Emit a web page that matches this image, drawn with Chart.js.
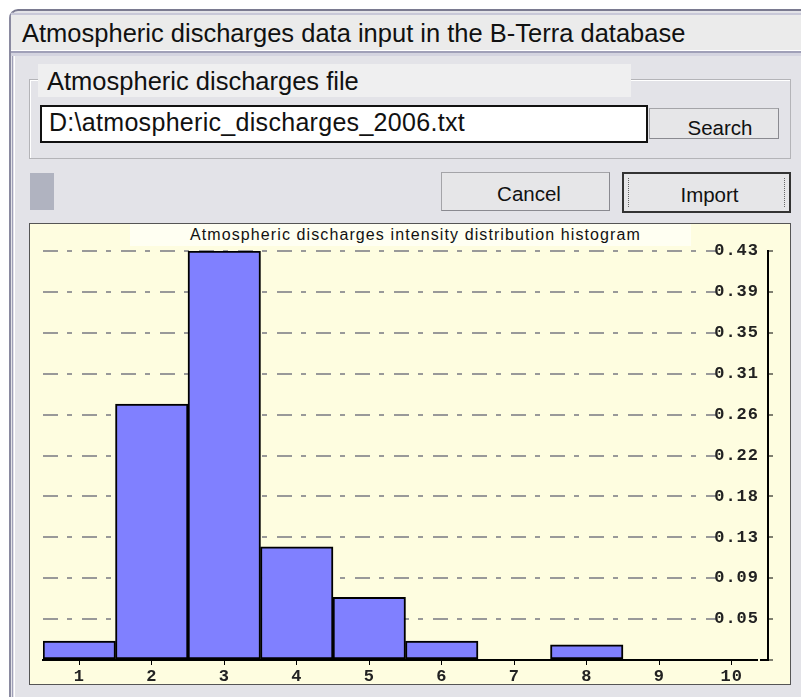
<!DOCTYPE html>
<html>
<head>
<meta charset="utf-8">
<script src="https://cdn.jsdelivr.net/npm/chart.js@4"></script>
<style>
  body { margin: 0; background: #fff; width: 801px; height: 697px; overflow: hidden; position: relative; font-family: "Liberation Sans", Arial, sans-serif; line-height: 1.15; }
  .abs { position: absolute; box-sizing: border-box; }
  #win { left: 9px; top: 9px; width: 820px; height: 720px; background: #e3e3e8; border-top: 2px solid #7a7a90; border-left: 2px solid #8a8aa0; border-top-left-radius: 9px; }
  #titlebar { left: 11px; top: 13px; width: 800px; height: 37px; background: #ebebeb; border-top: 2px solid #c8c8d8; }
  #titletext { left: 22px; top: 19px; font-size: 25.5px; color: #111; white-space: nowrap; }
  #sep { left: 11px; top: 50px; width: 800px; height: 6px; border-top: 1px solid #fff; border-bottom: 3px solid #d4d4e0; background: #a0a0b8; }
  #leftline { left: 12px; top: 56px; width: 3px; height: 650px; border-left: 1px solid #a0a0b8; border-right: 1px solid #fff; }
  #group { left: 29px; top: 79px; width: 762px; height: 80px; border: 1px solid #b4b4b8; box-shadow: inset 1px 1px 0 #fff; }
  #grouplabel { left: 38px; top: 64px; width: 593px; height: 33px; background: #efeff0; font-size: 25.5px; padding: 3px 0 0 9px; color: #111; white-space: nowrap; }
  #fileinput { left: 40px; top: 105px; width: 608px; height: 38px; background: #fff; border: 2px solid #111; font-size: 25px; padding: 1px 0 0 7px; color: #111; letter-spacing: 0.3px; white-space: nowrap; }
  .btn { background: #e6e6e8; border: 1px solid #a4a4a8; border-right-color: #8a8a90; border-bottom-color: #8a8a90; font-size: 20.5px; text-align: center; color: #111; }
  #search { left: 649px; top: 108px; width: 130px; height: 31px; padding: 7px 0 0 12px; }
  #cancel { left: 441px; top: 172px; width: 169px; height: 39px; padding: 9px 0 0 7px; }
  #import { left: 622px; top: 172px; width: 169px; height: 41px; padding: 9px 0 0 6px; border: 2px solid #333; }
  #focus { left: 628px; top: 178px; width: 157px; height: 29px; border-left: 1px dotted #666; border-right: 1px dotted #666; }
  #grip { left: 30px; top: 173px; width: 24px; height: 37px; background: #b0b3c0; }
  #panel { left: 29px; top: 223px; width: 762px; height: 462px; background: #fefde0; border: 1px solid #555; }
  #charttitle { left: 130px; top: 224px; width: 561px; height: 22px; background: #fffff2; font-size: 16px; letter-spacing: 1.1px; color: #111; padding: 2px 0 0 60px; white-space: nowrap; }
  canvas { position: absolute; left: 30px; top: 224px; }
</style>
</head>
<body>
<div class="abs" id="win"></div>
<div class="abs" id="titlebar"></div>
<div class="abs" id="titletext">Atmospheric discharges data input in the B-Terra database</div>
<div class="abs" id="sep"></div>
<div class="abs" id="leftline"></div>
<div class="abs" id="group"></div>
<div class="abs" id="grouplabel">Atmospheric discharges file</div>
<div class="abs" id="fileinput">D:\atmospheric_discharges_2006.txt</div>
<div class="abs btn" id="search">Search</div>
<div class="abs" id="grip"></div>
<div class="abs btn" id="cancel">Cancel</div>
<div class="abs btn" id="import">Import</div>
<div class="abs" id="focus"></div>
<div class="abs" id="panel"></div>
<canvas id="hist" width="760" height="459"></canvas>
<div class="abs" id="charttitle">Atmospheric discharges intensity distribution histogram</div>
<script>
const categories = ['1', '2', '3', '4', '5', '6', '7', '8', '9', '10'];
const frequencies = [0.020, 0.269, 0.430, 0.119, 0.066, 0.020, 0, 0.016, 0, 0];
const yTickValues = [0, 0.043, 0.086, 0.129, 0.172, 0.215, 0.258, 0.301, 0.344, 0.387, 0.43];
const yTickLabels = ['', '0.05', '0.09', '0.13', '0.18', '0.22', '0.26', '0.31', '0.35', '0.39', '0.43'];

const tickFont = { family: "'Liberation Mono', 'Courier New', monospace", size: 17, weight: 'bold' };

// a little letter spacing for the axis numbers, like the old control
const spacing = {
  id: 'spacing',
  beforeDraw: c => { c.ctx.letterSpacing = '1px'; },
  afterDraw: c => { c.ctx.letterSpacing = '0px'; }
};

new Chart(document.getElementById('hist'), {
  type: 'bar',
  data: {
    labels: categories,
    datasets: [{
      data: frequencies,
      backgroundColor: '#8080ff',
      borderColor: '#000',
      borderWidth: 2,
      borderSkipped: false,
      categoryPercentage: 1,
      barPercentage: 1
    }]
  },
  options: {
    responsive: false,
    animation: false,
    layout: { padding: { left: 13, top: 27, right: 0, bottom: 0 } },
    plugins: { legend: { display: false }, tooltip: { enabled: false } },
    scales: {
      x: {
        grid: { display: true, drawOnChartArea: false, offset: false, tickLength: 5, tickColor: '#000', tickWidth: 1 },
        border: { color: '#000', width: 2 },
        ticks: { color: '#222', font: tickFont, padding: 2 },
        afterFit: s => { s.height = 23; }
      },
      y: {
        position: 'right',
        min: 0,
        max: 0.43,
        afterBuildTicks: s => { s.ticks = yTickValues.map(v => ({ value: v })); },
        grid: { color: '#999', lineWidth: 2, tickLength: 5, tickColor: '#000', tickWidth: 1 },
        border: { color: '#000', width: 2, dash: [15, 9, 5, 10] },
        ticks: {
          mirror: true,
          padding: -9,
          color: '#222',
          font: tickFont,
          showLabelBackdrop: true,
          backdropColor: '#fefde0',
          backdropPadding: { x: 1, y: 0 },
          callback: (v, i) => yTickLabels[i]
        },
        afterFit: s => { s.width = 22; }
      }
    }
  },
  plugins: [spacing]
});
</script>
</body>
</html>
